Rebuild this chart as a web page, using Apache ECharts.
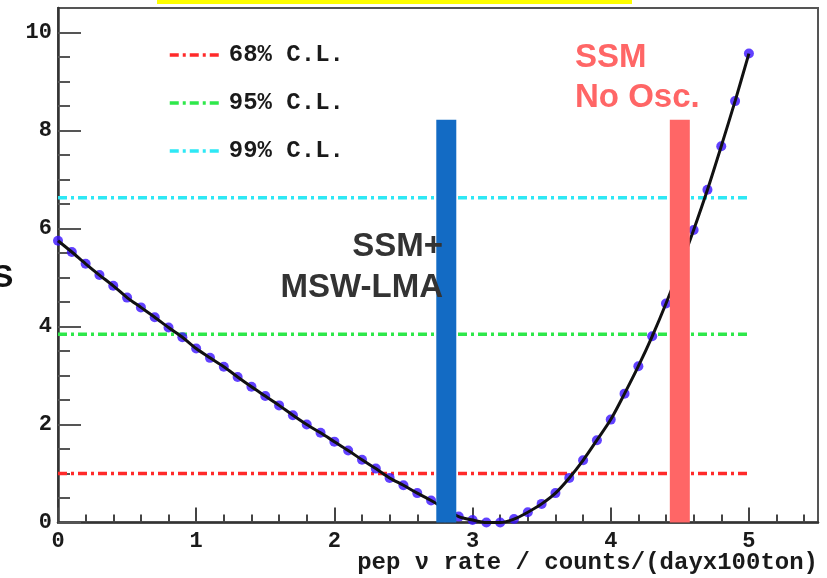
<!DOCTYPE html>
<html>
<head>
<meta charset="utf-8">
<script src="https://cdn.jsdelivr.net/npm/echarts@6/dist/echarts.min.js"></script>
<style>
html,body{margin:0;padding:0;background:#fff;}
#chart{width:827px;height:578px;}
</style>
</head>
<body>
<div id="chart"></div>
<script>
// ---- data ----
const rateValues = [0.0,0.1,0.2,0.3,0.4,0.5,0.6,0.7,0.8,0.9,1.0,1.1,1.2,1.3,1.4,1.5,1.6,1.7,1.8,1.9,2.0,2.1,2.2,2.3,2.4,2.5,2.6,2.7,2.8,2.9,3.0,3.1,3.2,3.3,3.4,3.5,3.6,3.7,3.8,3.9,4.0,4.1,4.2,4.3,4.4,4.5,4.6,4.7,4.8,4.9,5.0];
const deltaChi2 = [5.75,5.52,5.28,5.05,4.83,4.59,4.39,4.19,3.98,3.78,3.55,3.36,3.18,2.97,2.77,2.58,2.39,2.19,2.00,1.83,1.65,1.47,1.28,1.10,0.91,0.76,0.60,0.45,0.28,0.12,0.05,0.00,0.00,0.07,0.21,0.38,0.60,0.91,1.27,1.68,2.10,2.63,3.19,3.80,4.47,5.20,5.97,6.79,7.68,8.60,9.57];
const clNames = ['68% C.L.', '95% C.L.', '99% C.L.'];
const clLevels = [1.0, 3.84, 6.63];
const clRange = [0, 5];
const modelNames = ['SSM+MSW-LMA', 'SSM No Osc.'];
const modelRates = [2.81, 4.50];
const modelBarTop = [8.22, 8.22];
const xMajorTicks = [0,1,2,3,4,5];
const xMinorTicks = [0.2,0.4,0.6,0.8,1.2,1.4,1.6,1.8,2.2,2.4,2.6,2.8,3.2,3.4,3.6,3.8,4.2,4.4,4.6,4.8,5.2,5.4];
const yMajorTicks = [0,2,4,6,8,10];
const yMinorTicks = [0.5,1,1.5,2.5,3,3.5,4.5,5,5.5,6.5,7,7.5,8.5,9,9.5];
const xTitle = 'pep ν rate / counts/(dayx100ton)';

// ---- styles ----
const clColors = ['#ff2a2a', '#2ee84a', '#2ee8f5'];
const barColors = ['#136bc4', '#ff6666'];
const monoFont = 'Liberation Mono';
const X_MAX = 5.5, Y_MAX = 10.5;

const chart = echarts.init(document.getElementById('chart'), null, {renderer:'canvas'});

function xAxisBase(extra){
  return Object.assign({
    type:'value', min:0, max:X_MAX, position:'bottom', gridIndex:0,
    splitLine:{show:false}
  }, extra);
}
function yAxisBase(extra){
  return Object.assign({
    type:'value', min:0, max:Y_MAX, position:'left', gridIndex:0,
    splitLine:{show:false}
  }, extra);
}
const labelStyle = {fontFamily:monoFont, fontWeight:'bold', fontSize:22, color:'#1a1a1a'};

const series = [];
clNames.forEach((n,i)=>{
  series.push({
    name:n, type:'line', xAxisIndex:0, yAxisIndex:0,
    data:[[clRange[0], clLevels[i]],[clRange[1], clLevels[i]]],
    symbol:'none', silent:true, z:2,
    itemStyle:{color:clColors[i]},
    lineStyle:{color:clColors[i], width:3.5, type:[9,4,3,4]}
  });
});
const pts = rateValues.map((x,i)=>[x, deltaChi2[i]]);
series.push({
  name:'points', type:'scatter', xAxisIndex:0, yAxisIndex:0,
  data:pts, symbol:'circle', symbolSize:10, silent:true, z:3,
  itemStyle:{color:'#3a12ff'}
});
series.push({
  name:'curve', type:'line', xAxisIndex:0, yAxisIndex:0,
  data:pts, symbol:'none', smooth:0.3, silent:true, z:4,
  lineStyle:{color:'#111', width:3}
});
series.push({
  name:'models', type:'custom', xAxisIndex:0, yAxisIndex:0, z:6, silent:true,
  data: modelRates.map((r,i)=>[r, modelBarTop[i], i]),
  renderItem:function(params, api){
    const x = api.value(0), top = api.value(1), idx = api.value(2);
    const p0 = api.coord([x, 0]);
    const p1 = api.coord([x, top]);
    const w = 20;
    return {type:'rect', shape:{x:p0[0]-w/2, y:p1[1], width:w, height:p0[1]-p1[1]},
            style:{fill:barColors[idx]}};
  }
});

const option = {
  backgroundColor:'#ffffff',
  animation:false,
  grid:{left:58, right:9, top:8, bottom:55.5, show:true, borderColor:'#555', borderWidth:2, backgroundColor:'transparent', containLabel:false, outerBoundsMode:'none'},
  legend:{
    data:clNames, orient:'vertical', left:163, top:38,
    itemWidth:49, itemHeight:14, itemGap:24,
    itemStyle:{opacity:0},
    lineStyle:{width:3.5},
    textStyle:{fontFamily:monoFont, fontWeight:'bold', fontSize:24, color:'#1a1a1a', padding:[0,0,0,5], lineHeight:24},
    selectedMode:false
  },
  xAxis:[
    xAxisBase({
      axisLine:{show:true, lineStyle:{color:'#333', width:2.5}},
      axisTick:{show:true, inside:true, length:15, customValues:xMajorTicks, lineStyle:{color:'#444', width:2}},
      axisLabel:Object.assign({customValues:xMajorTicks, margin:8}, labelStyle)
    }),
    xAxisBase({
      axisLine:{show:false},
      axisTick:{show:true, inside:true, length:8, customValues:xMinorTicks, lineStyle:{color:'#444', width:2}},
      axisLabel:{show:false}
    })
  ],
  yAxis:[
    yAxisBase({
      axisLine:{show:true, lineStyle:{color:'#333', width:2.5}},
      axisTick:{show:true, inside:true, length:23, customValues:yMajorTicks, lineStyle:{color:'#555', width:2}},
      axisLabel:Object.assign({customValues:yMajorTicks, margin:6}, labelStyle)
    }),
    yAxisBase({
      axisLine:{show:false},
      axisTick:{show:true, inside:true, length:12, customValues:yMinorTicks, lineStyle:{color:'#555', width:2}},
      axisLabel:{show:false}
    })
  ],
  series:series,
  graphic:[
    {type:'rect', left:157, top:0, shape:{width:475, height:4}, style:{fill:'#ffff00'}, z:10},
    {type:'text', right:9, top:551, z:10, style:{text:xTitle, font:'bold 24px "Liberation Mono"', fill:'#1a1a1a'}},
    {type:'text', right:827-443, top:230, z:10, style:{text:'SSM+', font:'bold 33px "Liberation Sans"', fill:'#333'}},
    {type:'text', right:827-443, top:271, z:10, style:{text:'MSW-LMA', font:'bold 33px "Liberation Sans"', fill:'#333'}},
    {type:'text', left:575, top:41, z:10, style:{text:'SSM', font:'bold 33px "Liberation Sans"', fill:'#ff6666'}},
    {type:'text', left:575, top:81, z:10, style:{text:'No Osc.', font:'bold 33px "Liberation Sans"', fill:'#ff6666'}},
    {type:'text', left:-8, top:262, z:10, style:{text:'S', font:'bold 32px "Liberation Sans"', fill:'#111'}}
  ]
};
chart.setOption(option);
</script>
</body>
</html>
